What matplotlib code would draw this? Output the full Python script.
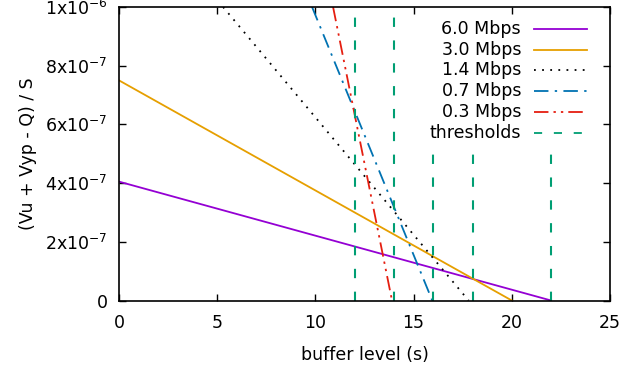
import matplotlib
matplotlib.use("Agg")
import matplotlib.pyplot as plt
from matplotlib.patches import Rectangle

plt.rcParams['font.family'] = ['DejaVu Sans']

labels = ["6.0 Mbps", "3.0 Mbps", "1.4 Mbps", "0.7 Mbps", "0.3 Mbps"]
# line endpoints (x in s, y in units)
xs = [[0, 22.0], [0, 20.0], [5.3, 17.8], [9.83, 15.95], [10.9, 13.9]]
ys = [[4.05e-7, 0], [7.5e-7, 0], [1e-6, 0], [1e-6, 0], [1e-6, 0]]
thresholds = [12, 14, 16, 18, 22]
xticks = [0, 5, 10, 15, 20, 25]
yticks = [0, 2e-7, 4e-7, 6e-7, 8e-7, 1e-6]
ytick_labels = ["0", r"2x10$^{-7}$", r"4x10$^{-7}$", r"6x10$^{-7}$", r"8x10$^{-7}$", r"1x10$^{-6}$"]

colors = ["#9400d3", "#e69f00", "#000000", "#0072b2", "#e51e10"]
styles = [dict(ls='-'), dict(ls='-'), dict(ls=(0, (1, 3.5))),
          dict(ls=(0, (8, 3.5, 1.3, 3.5))), dict(ls=(0, (8, 2.8, 1.3, 2.8, 1.3, 2.8)))]
thr_color = "#009e73"
thr_style = (0, (4.5, 6.5))
LW = 1.3
FS = 12.5

fig = plt.figure(figsize=(6.44, 3.72), dpi=100)
ax = fig.add_axes([119/644, 1-300.5/372, (610-119)/644, (300.5-7)/372])

for x, y, c, s in zip(xs, ys, colors, styles):
    ax.plot(x, y, color=c, lw=LW, **s)
for t in thresholds:
    ax.plot([t, t], [0, 1e-6], color=thr_color, lw=LW * 1.15, ls=thr_style)

ax.set_xlim(0, 25)
ax.set_ylim(0, 1e-6)
ax.set_xticks(xticks)
ax.set_yticks(yticks)
ax.set_yticklabels(ytick_labels)
ax.tick_params(direction='in', top=True, right=True, length=5, width=1,
               labelsize=FS)
ax.tick_params(axis='x', pad=10)
ax.tick_params(axis='y', pad=8)
for sp in ax.spines.values():
    sp.set_linewidth(1.2)
ax.set_xlabel("buffer level (s)", fontsize=FS, labelpad=10)
ax.set_ylabel("(Vu + Vyp - Q) / S", fontsize=FS, labelpad=6)

# opaque legend (gnuplot style, right aligned text)
def ax_px(px, py):
    return ((px-119)/(610-119), (300.5-py)/(300.5-7))

x0, y0 = ax_px(418, 150)
x1, y1 = ax_px(600, 15)
ax.add_patch(Rectangle((x0, y0), x1-x0, y1-y0, transform=ax.transAxes,
                       facecolor='white', edgecolor='none', zorder=5))
row_y = [29, 49.7, 70.4, 91.1, 111.8, 132.5]
all_labels = labels + ["thresholds"]
all_colors = colors + [thr_color]
all_styles = [s['ls'] for s in styles] + [thr_style]
for ry, lab, c, s in zip(row_y, all_labels, all_colors, all_styles):
    tx, ty = ax_px(521, ry)
    ax.text(tx, ty, lab, transform=ax.transAxes, ha='right', va='center',
            fontsize=FS, zorder=6)
    lx0, ly = ax_px(534, ry)
    lx1, _ = ax_px(587, ry)
    ax.plot([lx0, lx1], [ly, ly], transform=ax.transAxes, color=c, lw=LW,
            ls=s, zorder=6, clip_on=False)

fig.savefig("out.png", dpi=100)
